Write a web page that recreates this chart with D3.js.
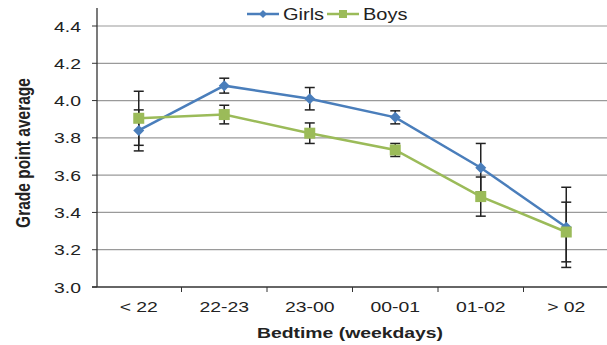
<!DOCTYPE html>
<html>
<head>
<meta charset="utf-8">
<script src="https://cdn.jsdelivr.net/npm/d3@7"></script>
<style>
  body { margin: 0; background: #fff; }
  text { font-family: "Liberation Sans", Arial, sans-serif; fill: #222; }
</style>
</head>
<body>
<div id="chart"></div>
<script>
// bedtime categories
const categories = ["< 22", "22-23", "23-00", "00-01", "01-02", "> 02"];
const girls = [3.84, 4.08, 4.01, 3.91, 3.64, 3.32];
const girlsErr = [0.11, 0.04, 0.06, 0.035, 0.13, 0.215];
const boys = [3.905, 3.925, 3.825, 3.735, 3.485, 3.295];
const boysErr = [0.145, 0.05, 0.055, 0.035, 0.105, 0.16];
const yTicks = [3.0, 3.2, 3.4, 3.6, 3.8, 4.0, 4.2, 4.4];

const series = [
    {name: "Girls", values: girls, err: girlsErr, color: "#4a7ebb", shape: "diamond"},
    {name: "Boys", values: boys, err: boysErr, color: "#9bbb59", shape: "square"}
];

const width = 607, height = 345;
// the original picture is stretched sideways, so text is too
const stretch = 1.25;

const svg = d3.select("#chart").append("svg")
    .attr("width", width)
    .attr("height", height);

let x = d3.scalePoint()
    .domain(categories)
    .range([96, 609])
    .padding(0.5);

let y = d3.scaleLinear()
    .domain([3.0, 4.4])
    .range([287, 26]);

function label(g, tx, ty, str, size, anchor, bold, rot) {
    return g.append("text")
        .attr("transform", `translate(${tx},${ty}) scale(${stretch},1)` + (rot ? " rotate(-90)" : ""))
        .attr("text-anchor", anchor)
        .style("font-size", size + "px")
        .style("font-weight", bold ? "bold" : "normal")
        .text(str);
}

// gridlines
svg.append("g").selectAll("line")
    .data(yTicks.slice(1))
    .enter().append("line")
    .attr("x1", 97).attr("x2", width)
    .attr("y1", d => y(d)).attr("y2", d => y(d))
    .attr("stroke", "#9a9a9a")
    .attr("stroke-width", 1.2);

// y axis
svg.append("line")
    .attr("x1", 97).attr("x2", 97)
    .attr("y1", 8).attr("y2", 287)
    .attr("stroke", "#333").attr("stroke-width", 1.3);
svg.append("g").selectAll("line")
    .data(yTicks)
    .enter().append("line")
    .attr("x1", 92).attr("x2", 97)
    .attr("y1", d => y(d)).attr("y2", d => y(d))
    .attr("stroke", "#333");
const yLab = svg.append("g");
yTicks.forEach(d => label(yLab, 81, y(d) + 5.5, d.toFixed(1), 15.5, "end", false));

// x axis
svg.append("line")
    .attr("x1", 92).attr("x2", width)
    .attr("y1", 287).attr("y2", 287)
    .attr("stroke", "#333").attr("stroke-width", 1.3);
const step = x.step();
svg.append("g").selectAll("line")
    .data(categories)
    .enter().append("line")
    .attr("x1", d => x(d) + step / 2).attr("x2", d => x(d) + step / 2)
    .attr("y1", 287).attr("y2", 292)
    .attr("stroke", "#333");
const xLab = svg.append("g");
categories.forEach(d => label(xLab, x(d), 312, d, 15.5, "middle", false));

// axis titles
label(svg, 350, 338, "Bedtime (weekdays)", 15.5, "middle", true);
label(svg, 30, 153, "Grade point average", 15.5, "middle", true, true);

const line = d3.line()
    .x((d, i) => x(categories[i]))
    .y(d => y(d));

function marker(g, shape, color, cx, cy) {
    if (shape === "diamond") {
        g.append("path")
            .attr("d", `M${cx},${cy - 5.5}L${cx + 5.5},${cy}L${cx},${cy + 5.5}L${cx - 5.5},${cy}Z`)
            .attr("fill", color);
    } else {
        g.append("rect")
            .attr("x", cx - 5.5).attr("y", cy - 5.5)
            .attr("width", 11).attr("height", 11)
            .attr("fill", color);
    }
}

series.forEach(s => {
    svg.append("path")
        .datum(s.values)
        .attr("d", line)
        .attr("fill", "none")
        .attr("stroke", s.color)
        .attr("stroke-width", 2.5);
});

// error bars
series.forEach(s => {
    const g = svg.append("g");
    s.values.forEach((v, i) => {
        const cx = x(categories[i]);
        const hi = y(v + s.err[i]), lo = y(v - s.err[i]);
        g.append("line").attr("x1", cx).attr("x2", cx).attr("y1", hi).attr("y2", lo)
            .attr("stroke", "#222").attr("stroke-width", 1.5);
        [hi, lo].forEach(yy => {
            g.append("line").attr("x1", cx - 5).attr("x2", cx + 5).attr("y1", yy).attr("y2", yy)
                .attr("stroke", "#222").attr("stroke-width", 1.5);
        });
    });
});

series.forEach(s => {
    const g = svg.append("g");
    s.values.forEach((v, i) => marker(g, s.shape, s.color, x(categories[i]), y(v)));
});

// legend
const legend = svg.append("g");
const legendX = [247, 327];
series.forEach((s, i) => {
    const lx = legendX[i];
    legend.append("line")
        .attr("x1", lx).attr("x2", lx + 32)
        .attr("y1", 14).attr("y2", 14)
        .attr("stroke", s.color).attr("stroke-width", 2.5);
    if (s.shape === "diamond") {
        legend.append("path")
            .attr("d", `M${lx + 16},${10}L${lx + 20},${14}L${lx + 16},${18}L${lx + 12},${14}Z`)
            .attr("fill", s.color);
    } else {
        legend.append("rect")
            .attr("x", lx + 12).attr("y", 10)
            .attr("width", 8).attr("height", 8)
            .attr("fill", s.color);
    }
    label(legend, lx + 36, 20, s.name, 16, "start", false);
});
</script>
</body>
</html>
